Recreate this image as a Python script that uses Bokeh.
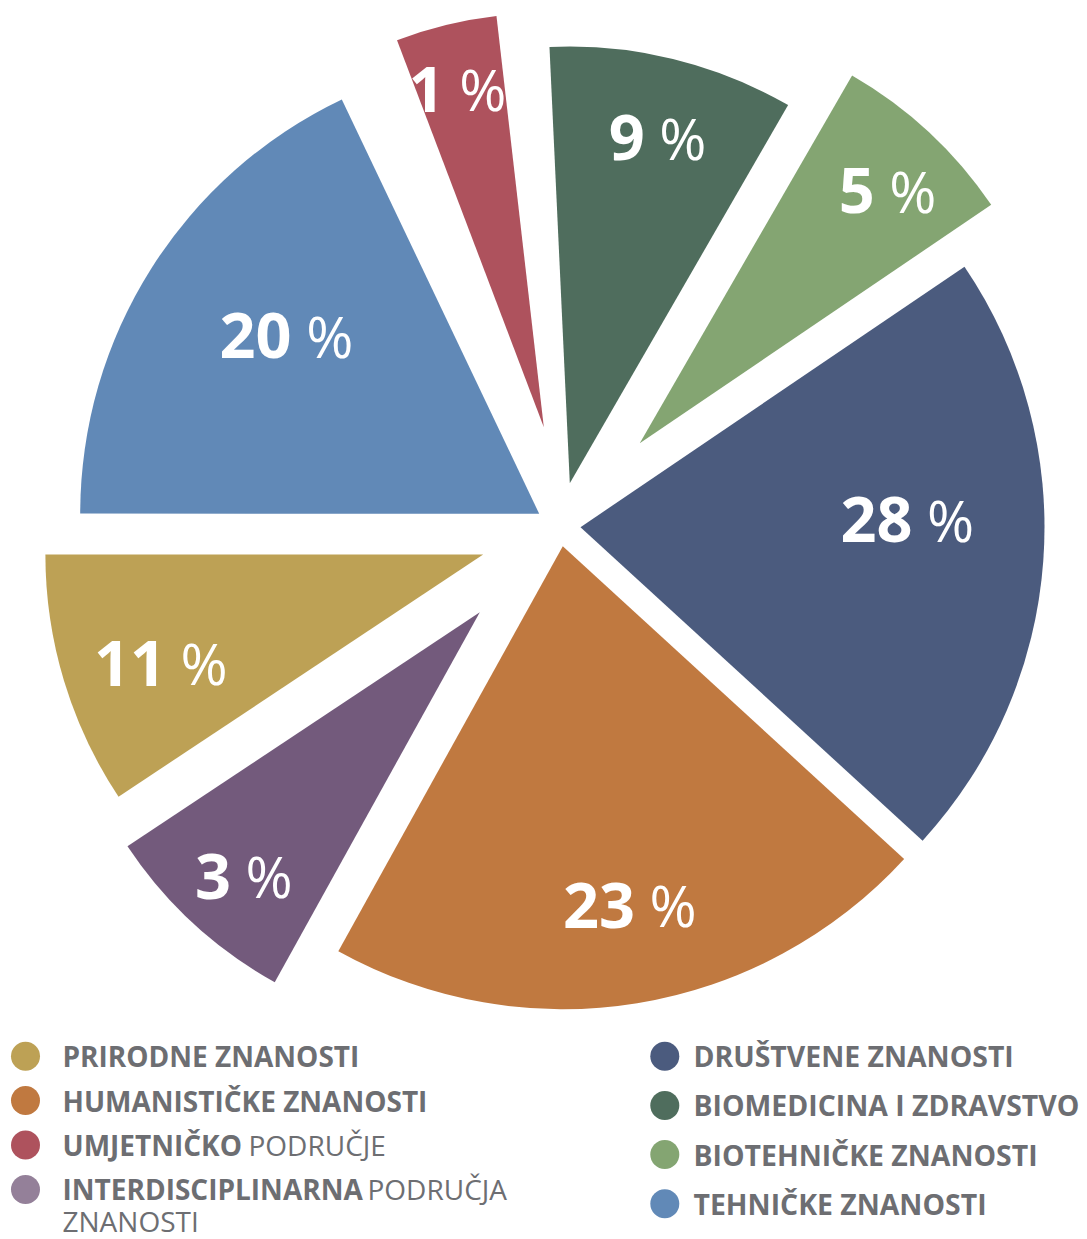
import math
from bokeh.plotting import figure
from bokeh.models import Range1d, ColumnDataSource
from bokeh.core.properties import value
from bokeh.embed import file_html
from bokeh.resources import INLINE

# ---------------- data ----------------
# slices in anticlockwise order, starting from the 9 o'clock direction
slice_names = ["PRIRODNE ZNANOSTI", "INTERDISCIPLINARNA PODRUČJA ZNANOSTI",
               "HUMANISTIČKE ZNANOSTI", "DRUŠTVENE ZNANOSTI",
               "BIOTEHNIČKE ZNANOSTI", "BIOMEDICINA I ZDRAVSTVO",
               "UMJETNIČKO PODRUČJE", "TEHNIČKE ZNANOSTI"]
slice_pct = [11, 3, 23, 28, 5, 9, 1, 20]
# angular size of each slice as drawn in the picture (degrees)
slice_drawn_deg = [33.6, 27.4, 76.5, 76.65, 25.85, 32.67, 14.2, 64.5]

# legend
legend_left_bold = ["PRIRODNE ZNANOSTI", "HUMANISTIČKE ZNANOSTI", "UMJETNIČKO", "INTERDISCIPLINARNA"]
legend_left_regular = ["", "", "PODRUČJE", "PODRUČJA"]
legend_left_extra = "ZNANOSTI"
legend_right_bold = ["DRUŠTVENE ZNANOSTI", "BIOMEDICINA I ZDRAVSTVO", "BIOTEHNIČKE ZNANOSTI", "TEHNIČKE ZNANOSTI"]

# ---------------- style ----------------
slice_colors = ["#bda155", "#735a7c", "#c07940", "#4b5b7e",
                "#84a572", "#4f6d5d", "#ae525d", "#6189b7"]
legend_left_colors = ["#bda155", "#c07940", "#ae525d", "#948099"]
legend_right_colors = ["#4b5b7e", "#4f6d5d", "#84a572", "#6189b7"]
gap_before_deg = [0, 0, 0, 0, 0, 0, 3.9, 4.7]
explode = [83.4, 118.4, 19.3, 18.6, 114.3, 44.4, 101.3, 26.2]
explode_dir_adj = [2.5, -1.2, -6.6, 3.25, 0.0, 3.4, -3.4, 2.3]
radius = [437.8, 423.0, 463.0, 464.0, 424.7, 436.6, 414.0, 459.0]
label_dist = [328.8, 357.9, 367.9, 339.1, 349.8, 354.9, 350.1, 299.2]
label_adj = [2.56, 0.2, 3.18, 5.4, -0.85, 0.3, 1.6, -4.2]

W, H = 1087, 1239
cx, cy = 561.4, H - 526.4
TEXT_GRAY = "#6d6e72"

p = figure(width=W, height=H, x_range=Range1d(0, W), y_range=Range1d(0, H),
           output_backend="svg", toolbar_location=None,
           x_axis_location=None, y_axis_location=None, min_border=0)
p.grid.visible = False
p.outline_line_color = None
p.background_fill_color = "white"
p.border_fill_color = "white"

wx, wy, ws, we, wr = [], [], [], [], []
nx, ny, px_, py_, ntext = [], [], [], [], []
start = 180.0
for i, d in enumerate(slice_drawn_deg):
    start += gap_before_deg[i]
    end = start + d
    mid = math.radians((start + end) / 2)
    ed = mid + math.radians(explode_dir_adj[i])
    x0 = cx + explode[i] * math.cos(ed)
    y0 = cy + explode[i] * math.sin(ed)
    wx.append(x0); wy.append(y0); ws.append(start); we.append(end); wr.append(radius[i])
    la = mid + math.radians(label_adj[i])
    lx = x0 + label_dist[i] * math.cos(la)
    ly = y0 + label_dist[i] * math.sin(la)
    nx.append(lx - 7); ny.append(ly)
    px_.append(lx + 7.5); py_.append(ly)
    ntext.append(str(slice_pct[i]))
    start = end

src = ColumnDataSource(dict(x=wx, y=wy, s=ws, e=we, r=wr, c=slice_colors))
p.wedge(x="x", y="y", radius="r", start_angle="s", end_angle="e",
        start_angle_units="deg", end_angle_units="deg", direction="anticlock",
        fill_color="c", line_color=None, source=src)

p.text(x=nx, y=ny, text=ntext, text_font=value("Open Sans"), text_font_style="bold",
       text_font_size="63px", text_color="white", text_align="right",
       text_baseline="alphabetic")
p.text(x=px_, y=py_, text=["%"] * len(px_), text_font=value("Open Sans"),
       text_font_style="normal", text_font_size="57px", text_color="white",
       text_align="left", text_baseline="alphabetic")

# ---------------- legend ----------------
FS = "28px"
left_cy = [H - (1055.7 + i * 44.4) for i in range(len(legend_left_bold))]
right_cy = [H - (1055.7 + i * 49.2) for i in range(len(legend_right_bold))]

p.scatter(x=[25] * 4, y=left_cy, size=29, fill_color=legend_left_colors, line_color=None)
p.scatter(x=[664.3] * 4, y=right_cy, size=29, fill_color=legend_right_colors, line_color=None)

p.text(x=[62] * 4, y=left_cy, text=legend_left_bold,
       text_font=value("Open Sans"), text_font_style="bold", text_font_size=FS,
       text_color=TEXT_GRAY, text_align="left", text_baseline="alphabetic")
reg_x = [0, 0, 248, 367]
rx = [reg_x[i] for i, t in enumerate(legend_left_regular) if t]
ry = [left_cy[i] for i, t in enumerate(legend_left_regular) if t]
rt = [t for t in legend_left_regular if t]
rx.append(62); ry.append(H - 1220.0); rt.append(legend_left_extra)
p.text(x=rx, y=ry, text=rt, text_font=value("Open Sans"), text_font_style="normal",
       text_font_size=FS, text_color=TEXT_GRAY, text_align="left", text_baseline="alphabetic")

p.text(x=[693] * 4, y=right_cy, text=legend_right_bold,
       text_font=value("Open Sans"), text_font_style="bold", text_font_size="28.4px",
       text_color=TEXT_GRAY, text_align="left", text_baseline="alphabetic")

open("out.html", "w").write(file_html(p, INLINE))
